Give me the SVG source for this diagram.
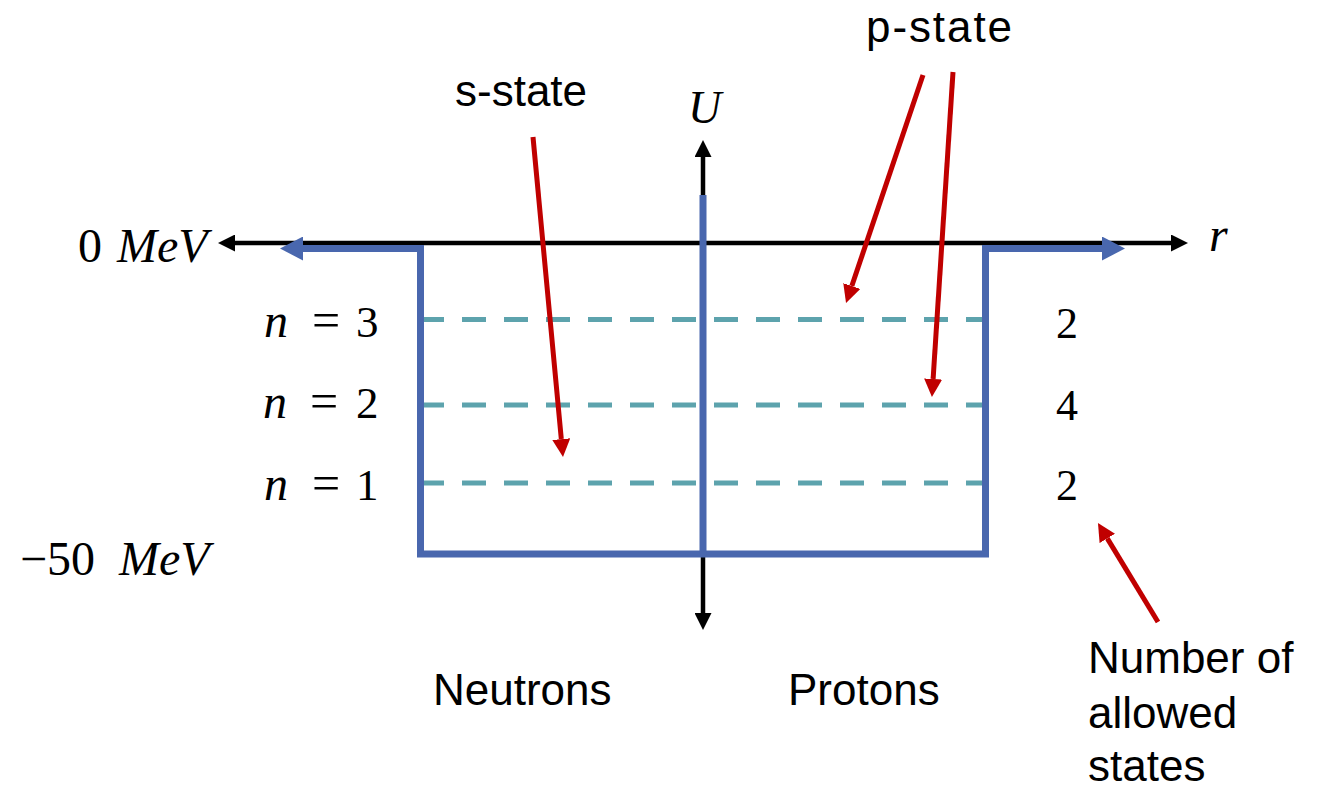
<svg xmlns="http://www.w3.org/2000/svg" width="1319" height="791" viewBox="0 0 1319 791">
<style>
.lbl{font-family:"Liberation Sans",Arial,sans-serif;font-size:44px;fill:#000}
.m{font-family:"Liberation Serif","Times New Roman",serif;fill:#000}
.mi{font-family:"Liberation Serif","Times New Roman",serif;font-style:italic;fill:#000}
.axis{stroke:#000;stroke-width:4.5;fill:none}
.well{stroke:#4967AE;stroke-width:7;fill:none;stroke-linejoin:miter}
.lvl{stroke:#5DA3AD;stroke-width:5;stroke-dasharray:24 18;fill:none}
.red{stroke:#C00000;stroke-width:5;fill:none}
</style>
<defs>
<marker id="ak" markerUnits="userSpaceOnUse" markerWidth="17" markerHeight="17" refX="0" refY="8.5" orient="auto-start-reverse"><path d="M0,0 L17,8.5 L0,17 z" fill="#000"/></marker>
<marker id="ab" markerUnits="userSpaceOnUse" markerWidth="23" markerHeight="24" refX="0" refY="12" orient="auto-start-reverse"><path d="M0,0 L23,12 L0,24 z" fill="#4967AE"/></marker>
<marker id="ar" markerUnits="userSpaceOnUse" markerWidth="18" markerHeight="18" refX="0" refY="9" orient="auto"><path d="M0,0 L18,9 L0,18 z" fill="#C00000"/></marker>
</defs>
<g id="connectors">
<line class="axis" x1="235" y1="243" x2="1171" y2="243" marker-start="url(#ak)" marker-end="url(#ak)"/>
<line class="axis" x1="703" y1="157" x2="703" y2="613" marker-start="url(#ak)" marker-end="url(#ak)"/>
<line class="lvl" x1="420" y1="319.5" x2="986" y2="319.5"/>
<line class="lvl" x1="420" y1="405" x2="986" y2="405"/>
<line class="lvl" x1="420" y1="483" x2="986" y2="483"/>
<path class="well" d="M303,248.5 H420.5 V554 H985.5 V248.5 H1102" marker-start="url(#ab)" marker-end="url(#ab)"/>
<line class="well" x1="703" y1="195" x2="703" y2="554"/>
<line class="red" x1="533" y1="137" x2="561.3" y2="439.1" marker-end="url(#ar)"/>
<line class="red" x1="923" y1="75" x2="851.8" y2="286" marker-end="url(#ar)"/>
<line class="red" x1="953" y1="72" x2="933.1" y2="379" marker-end="url(#ar)"/>
<line class="red" x1="1158" y1="622" x2="1107.3" y2="538.4" marker-end="url(#ar)"/>
</g>
<g id="label-sstate"><text class="lbl" x="455" y="106">s-state</text></g>
<g id="label-pstate"><text class="lbl" x="866" y="42" textLength="146">p-state</text></g>
<g id="label-neutrons"><text class="lbl" x="433" y="705">Neutrons</text></g>
<g id="label-protons"><text class="lbl" x="788" y="705">Protons</text></g>
<g id="label-number"><text class="lbl" x="1088" y="673">Number of</text><text class="lbl" x="1088" y="728">allowed</text><text class="lbl" x="1088" y="781">states</text></g>
<g id="label-U"><text class="mi" x="688" y="123" font-size="46">U</text></g>
<g id="label-r"><text class="mi" x="1209" y="251" font-size="48">r</text></g>
<g id="label-0mev"><text class="m" x="78" y="262" font-size="48">0</text><text class="mi" x="117" y="262" font-size="48">MeV</text></g>
<g id="label-50mev"><text class="m" x="20" y="575" font-size="48">−50</text><text class="mi" x="119" y="575" font-size="48">MeV</text></g>
<g id="label-n3"><text class="mi" x="264" y="337" font-size="48">n</text><text class="m" x="326" y="337" font-size="50" text-anchor="middle">=</text><text class="m" x="356" y="337" font-size="45">3</text></g>
<g id="label-n2"><text class="mi" x="263" y="418" font-size="48">n</text><text class="m" x="324" y="418" font-size="50" text-anchor="middle">=</text><text class="m" x="356" y="418" font-size="45">2</text></g>
<g id="label-n1"><text class="mi" x="264" y="500" font-size="48">n</text><text class="m" x="326" y="500" font-size="50" text-anchor="middle">=</text><text class="m" x="356" y="500" font-size="45">1</text></g>
<g id="count-3"><text class="m" x="1056" y="338" font-size="44">2</text></g>
<g id="count-2"><text class="m" x="1056" y="420" font-size="44">4</text></g>
<g id="count-1"><text class="m" x="1056" y="500" font-size="44">2</text></g>
</svg>
